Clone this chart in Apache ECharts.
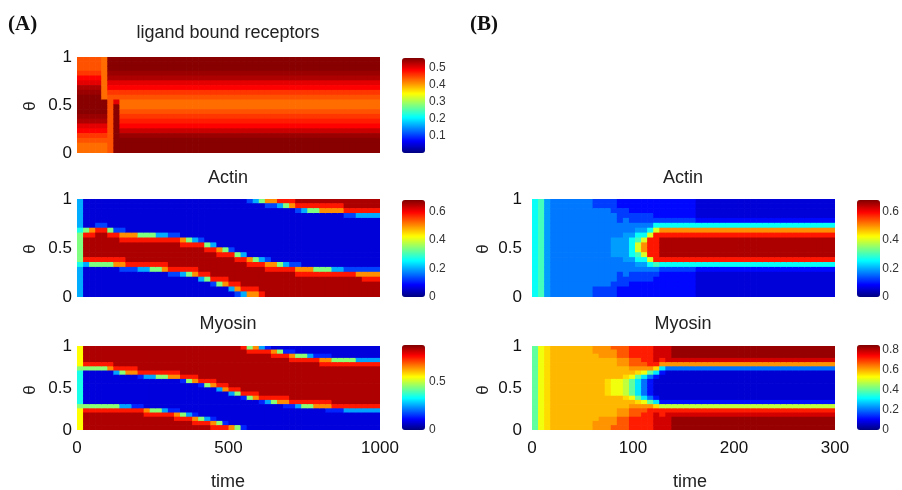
<!DOCTYPE html>
<html>
<head>
<meta charset="utf-8">
<script src="https://cdn.jsdelivr.net/npm/echarts@6/dist/echarts.min.js"></script>
<style>
  html, body { margin: 0; padding: 0; background: #fff; }
  #chart { width: 902px; height: 490px; }
</style>
</head>
<body>
<div id="chart"></div>
<script>
// each string is one time column, read top (theta = 1) to bottom (theta = 0)
// the characters are colour levels, looked up in the *Levels tables below
var ligandLevels = { 0: 0.43, 1: 0.445, 2: 0.46, 3: 0.475, 4: 0.49, 5: 0.505, 6: 0.52, 7: 0.535, 8: 0.545, 9: 0.555 };
var ligandCols = [
  "11124578999987542100", "11124578999987542100", "11124578999987542100", "11124578999987542100",
  "00000000099987542100", "99987542111111111111", "99987542159999999999",
  "99987542100123468999", "99987542100123468999", "99987542100123468999", "99987542100123468999",
  "99987542100123468999", "99987542100123468999", "99987542100123468999", "99987542100123468999",
  "99987542100123468999", "99987542100123468999", "99987542100123468999", "99987542100123468999",
  "99987542100123468999", "99987542100123468999", "99987542100123468999", "99987542100123468999",
  "99987542100123468999", "99987542100123468999", "99987542100123468999", "99987542100123468999",
  "99987542100123468999", "99987542100123468999", "99987542100123468999", "99987542100123468999",
  "99987542100123468999", "99987542100123468999", "99987542100123468999", "99987542100123468999",
  "99987542100123468999", "99987542100123468999", "99987542100123468999", "99987542100123468999",
  "99987542100123468999", "99987542100123468999", "99987542100123468999", "99987542100123468999",
  "99987542100123468999", "99987542100123468999", "99987542100123468999", "99987542100123468999",
  "99987542100123468999", "99987542100123468999", "99987542100123468999"
];

var actinALevels = { 0: 0.03, 1: 0.06, 2: 0.13, 3: 0.2, 4: 0.27, 5: 0.34, 6: 0.42, 7: 0.5, 8: 0.58, 9: 0.65 };
var actinACols = [
  "33333345555554333333", "11111158999983111111", "11111178999985111111", "11111289999985111111",
  "11111289999985111111", "11111158999985111111", "11111128999987111111", "11111127899987211111",
  "11111117899998211111", "11111117899998211111", "11111115899998311111", "11111115899998311111",
  "11111115899998511111", "11111113899998511111", "11111113899998711111", "11111112899999821111",
  "11111112899999821111", "11111111789999831111", "11111111589999851111", "11111111389999871111",
  "11111111289999983111", "11111111158999985111", "11111111138999998211", "11111111117899998511",
  "11111111115899998711", "11111111112899999831", "11111111111589999872", "11111111111389999983",
  "21111111111178999987", "31111111111158999987", "51111111111138999998", "72111111111127899999",
  "72111111111117899999", "83111111111115899999", "85111111111113899999", "87111111111112899999",
  "98211111111112789999", "98311111111111789999", "98511111111111789999", "98511111111111589999",
  "98711111111111589999", "98711111111111589999", "98711111111111389999", "98711111111111389999",
  "99821111111111289999", "99821111111111289999", "99831111111111279999", "99831111111111278999",
  "99831111111111278999", "99831111111111278999"
];

var myosinALevels = { 0: 0.02, 1: 0.08, 2: 0.14, 3: 0.25, 4: 0.35, 5: 0.45, 6: 0.55, 7: 0.65, 8: 0.75, 9: 0.84 };
var myosinACols = [
  "66666544444444566666", "99998511111111589999", "99998511111111589999", "99998511111111589999",
  "99998511111111589999", "99998711111111589999", "99999831111111589999", "99999851111111389999",
  "99999871111111389999", "99999871111111289999", "99999982111111289999", "99999983111111178999",
  "99999983111111158999", "99999985111111158999", "99999985111111138999", "99999987111111128999",
  "99999987111111127899", "99999998211111115899", "99999998511111113899", "99999998711111112789",
  "99999999821111111589", "99999999851111111389", "99999999871111111278", "99999999983111111158",
  "99999999987111111128", "99999999998311111117", "99999999998511111115", "89999999999821111112",
  "58999999999851111111", "78999999999871111111", "38999999999982111111", "28999999999983111111",
  "17899999999985111111", "15899999999987111111", "12899999999987211111", "12789999999998211111",
  "11589999999998311111", "11589999999998511111", "11389999999998511111", "11289999999998711111",
  "11278999999998711111", "11278999999998721111", "11158999999999821111", "11158999999999821111",
  "11158999999999831111", "11158999999999831111", "11138999999999831111", "11138999999999831111",
  "11138999999999831111", "11138999999999831111"
];

var actinBLevels = { 0: 0.02, 1: 0.06, 2: 0.09, 3: 0.125, 4: 0.165, 5: 0.19, 6: 0.26, 7: 0.3, 8: 0.4, 9: 0.5, a: 0.58, b: 0.65 };
var actinBCols = [
  "66666666666666666666", "77777777777777777777", "55555555555555555555", "44444444444444444444",
  "44444444444444444444", "44444444444444444444", "44444444444444444444", "44444444444444444444",
  "44444444444444444444", "44444444444444444444", "33444444444444444433", "33444444444444444433",
  "33444444444444444433", "33344444555544444333", "22333444555544433322", "22334445555554443322",
  "22233445666654433222", "22233456788765433222", "22233456899865433222", "22233468aaaa86433222",
  "2222368aaaaaa7432222", "2222369abbbba6322222", "2222369abbbba6322222", "2222369abbbba6322222",
  "2222369abbbba6322222", "2222369abbbba6322222", "2222369abbbba6322222", "1111269abbbba6211111",
  "1111269abbbba6211111", "1111269abbbba6211111", "1111269abbbba6211111", "1111269abbbba6211111",
  "1111269abbbba6211111", "1111269abbbba6211111", "1111269abbbba6211111", "1111269abbbba6211111",
  "1111269abbbba6211111", "1111269abbbba6211111", "1111269abbbba6211111", "1111269abbbba6211111",
  "1111269abbbba6211111", "1111269abbbba6211111", "1111269abbbba6211111", "1111269abbbba6211111",
  "1111269abbbba6211111", "1111269abbbba6211111", "1111269abbbba6211111", "1111269abbbba6211111",
  "1111269abbbba6211111", "1111269abbbba6211111"
];

var myosinBLevels = { 0: 0.02, 1: 0.07, 2: 0.12, 3: 0.2, 4: 0.3, 5: 0.4, 6: 0.48, 7: 0.52, 8: 0.56, 9: 0.59, a: 0.62, b: 0.67, c: 0.72, d: 0.78, e: 0.83 };
var myosinBCols = [
  "55555555555555555555", "77777777777777777777", "88888888888888888888", "99999999999999999999",
  "99999999999999999999", "99999999999999999999", "99999999999999999999", "99999999999999999999",
  "99999999999999999999", "99999999999999999999", "aa9999999999999999aa", "aaa99999999999999aaa",
  "aaa99999888899999aaa", "baa99999777799999aab", "bbbaa9997777999aabbb", "bbbaa9986666899aabbb",
  "cccbba97555579abbccc", "cccbba85444458abbccc", "ccccba74333347abcccc", "ccccca53222235accccc",
  "ddddc8421111248cdddd", "dddca4211111126ccddd", "dddda3111111126cdddd", "eeeda3111111126cdeee",
  "eeeda3111111126cdeee", "eeeda3111111126cdeee", "eeeda3111111126cdeee", "eeeda3111111126cdeee",
  "eeeda3111111126cdeee", "eeeda3111111126cdeee", "eeeda3111111126cdeee", "eeeda3111111126cdeee",
  "eeeda3111111126cdeee", "eeeda3111111126cdeee", "eeeda3111111126cdeee", "eeeda3111111126cdeee",
  "eeeda3111111126cdeee", "eeeda3111111126cdeee", "eeeda3111111126cdeee", "eeeda3111111126cdeee",
  "eeeda3111111126cdeee", "eeeda3111111126cdeee", "eeeda3111111126cdeee", "eeeda3111111126cdeee",
  "eeeda3111111126cdeee", "eeeda3111111126cdeee", "eeeda3111111126cdeee", "eeeda3111111126cdeee",
  "eeeda3111111126cdeee", "eeeda3111111126cdeee"
];

var NROWS = 20;
var FONT = '"Liberation Sans", Arial, Helvetica, sans-serif';
var jet = ['#00007f', '#0000ff', '#007fff', '#00ffff', '#7fff7f', '#ffff00', '#ff7f00', '#ff0000', '#7f0000'];

// layout of the five maps: plot box [left, top, width, height], colour bar [left, top, height]
var panels = [
  { cols: ligandCols, levels: ligandLevels, box: [77, 57, 303, 96], bar: [402, 58, 95], max: 0.56, step: 0.1, hideZero: true, tMax: 1000, tStep: 500, showTime: false, gap: 5 },
  { cols: actinACols, levels: actinALevels, box: [77, 199, 303, 98], bar: [402, 200, 97], max: 0.68, step: 0.2, tMax: 1000, tStep: 500, showTime: false, gap: 5 },
  { cols: myosinACols, levels: myosinALevels, box: [77, 346, 303, 84], bar: [402, 345, 85], max: 0.88, step: 0.5, tMax: 1000, tStep: 500, showTime: true, gap: 5 },
  { cols: actinBCols, levels: actinBLevels, box: [532, 199, 303, 98], bar: [857, 200, 97], max: 0.68, step: 0.2, tMax: 300, tStep: 100, showTime: false, gap: 10 },
  { cols: myosinBCols, levels: myosinBLevels, box: [532, 346, 303, 84], bar: [857, 345, 85], max: 0.85, step: 0.2, tMax: 300, tStep: 100, showTime: true, gap: 10 }
];

function cells(cols, levels) {
  var out = [];
  cols.forEach(function (col, i) {
    for (var k = 0; k < NROWS; k++) {
      var ch = col.charAt(Math.min(k, col.length - 1));
      out.push([i, NROWS - 1 - k, levels[ch]]);
    }
  });
  return out;
}

// one rectangle per cell, a hair larger than its band so no seams show
function renderCell(params, api) {
  var c = api.coord([api.value(0), api.value(1)]);
  var s = api.size([1, 1]);
  return {
    type: 'rect',
    shape: { x: c[0] - s[0] / 2, y: c[1] - s[1] / 2 - 0.7, width: s[0] + 0.7, height: s[1] + 0.7 },
    style: { fill: api.visual('color') }
  };
}

var grid = [], xAxis = [], yAxis = [], series = [], visualMap = [];
var rowCats = [];
for (var r = 0; r < NROWS; r++) rowCats.push(String(r));

panels.forEach(function (p, i) {
  var colCats = p.cols.map(function (c, j) { return String(j); });
  grid.push({ left: p.box[0], top: p.box[1], width: p.box[2], height: p.box[3] });
  xAxis.push({ type: 'category', gridIndex: i, data: colCats, position: 'top', show: false });
  yAxis.push({ type: 'category', gridIndex: i, data: rowCats, position: 'right', show: false });
  xAxis.push({
    type: 'value', gridIndex: i, min: 0, max: p.tMax, interval: p.tStep, position: 'bottom',
    show: p.showTime,
    axisLine: { show: false }, axisTick: { show: false }, splitLine: { show: false },
    axisLabel: { fontSize: 17, color: '#111', margin: 10, formatter: function (v) { return String(v); } }
  });
  yAxis.push({
    type: 'value', gridIndex: i, min: 0, max: 1, interval: 0.5, position: 'left',
    axisLine: { show: false }, axisTick: { show: false }, splitLine: { show: false },
    axisLabel: { fontSize: 17, color: '#111', margin: p.gap }
  });
  series.push({
    type: 'custom', xAxisIndex: 2 * i, yAxisIndex: 2 * i,
    encode: { x: 0, y: 1 }, clip: true, progressive: 0,
    data: cells(p.cols, p.levels), renderItem: renderCell
  });
  visualMap.push({
    type: 'continuous', seriesIndex: i, dimension: 2, min: 0, max: p.max,
    orient: 'vertical', left: p.bar[0], top: p.bar[1], itemWidth: 23, itemHeight: p.bar[2],
    padding: 0, calculable: false, hoverLink: false, text: null,
    inRange: { color: jet }
  });
});

// colour bar tick labels
panels.forEach(function (p, i) {
  var g = 5 + i;
  grid.push({ left: p.bar[0], top: p.bar[1], width: 23, height: p.bar[2] });
  xAxis.push({ type: 'value', gridIndex: g, show: false, min: 0, max: 1 });
  yAxis.push({
    type: 'value', gridIndex: g, position: 'right', min: 0, max: p.max, interval: p.step,
    axisLine: { show: false }, axisTick: { show: false }, splitLine: { show: false },
    axisLabel: { fontSize: 12, color: '#333', margin: 4, showMaxLabel: false, showMinLabel: !p.hideZero }
  });
});

function txt(s, x, y, size, extra) {
  var el = {
    type: 'text', x: x, y: y,
    style: { text: s, font: size + 'px ' + FONT, fill: '#222', textAlign: 'center', textVerticalAlign: 'middle' }
  };
  if (extra) Object.assign(el, extra);
  return el;
}

var graphics = [
  { type: 'text', x: 8, y: 25, style: { text: '(A)', font: 'bold 21px "Liberation Serif", "Times New Roman", serif', fill: '#111', textVerticalAlign: 'middle' } },
  { type: 'text', x: 470, y: 25, style: { text: '(B)', font: 'bold 21px "Liberation Serif", "Times New Roman", serif', fill: '#111', textVerticalAlign: 'middle' } },
  txt('ligand bound receptors', 228, 33, 18),
  txt('Actin', 228, 178, 18),
  txt('Myosin', 228, 324, 18),
  txt('Actin', 683, 178, 18),
  txt('Myosin', 683, 324, 18),
  txt('time', 228, 482, 18),
  txt('time', 690, 482, 18),
  txt('θ', 30, 106, 17, { rotation: Math.PI / 2 }),
  txt('θ', 30, 249, 17, { rotation: Math.PI / 2 }),
  txt('θ', 30, 390, 17, { rotation: Math.PI / 2 }),
  txt('θ', 483, 249, 17, { rotation: Math.PI / 2 }),
  txt('θ', 483, 390, 17, { rotation: Math.PI / 2 })
];

var chart = echarts.init(document.getElementById('chart'));
chart.setOption({
  animation: false,
  backgroundColor: '#fff',
  textStyle: { fontFamily: FONT },
  grid: grid,
  xAxis: xAxis,
  yAxis: yAxis,
  visualMap: visualMap,
  series: series,
  graphic: { elements: graphics }
});
</script>
</body>
</html>
